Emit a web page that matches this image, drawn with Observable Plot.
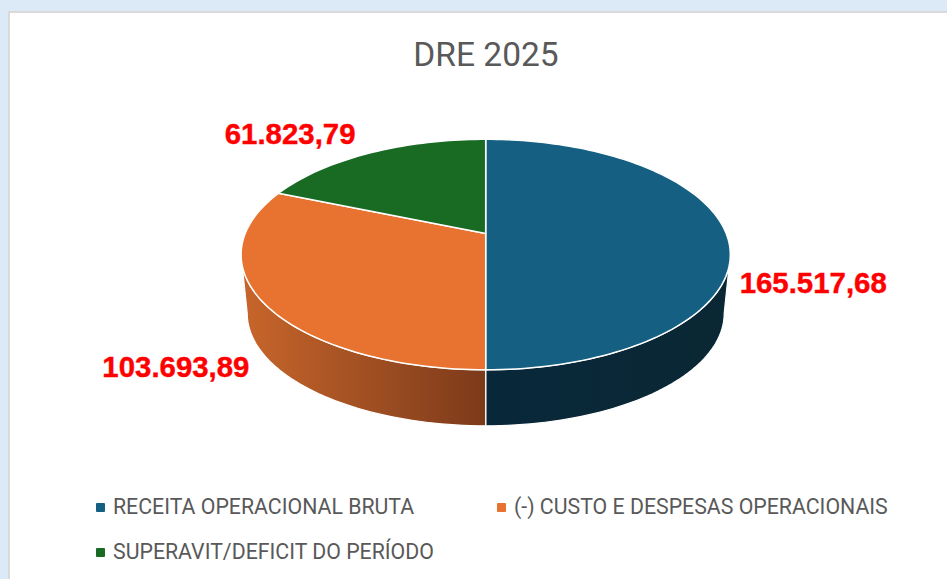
<!DOCTYPE html>
<html lang="pt-BR">
<head>
<meta charset="utf-8">
<title>DRE 2025</title>
<script src="https://cdn.jsdelivr.net/npm/d3@7"></script>
<script src="https://cdn.jsdelivr.net/npm/@observablehq/plot@0.6"></script>
<style>
  html, body { margin: 0; height: 100%; overflow: hidden; background: #dce9f6; }
  #card { position: absolute; left: 8px; top: 11px; width: 960px; height: 600px; background: #fff; border: 2px solid #d9d9d9; box-sizing: border-box; }
  #title { position: absolute; left: 0; top: 35px; width: 972px; text-align: center; font: 33.5px Roboto, sans-serif; color: #595959; }
  #chart { position: absolute; left: 0; top: 100px; }
  #chart svg { background: transparent; display: block; }
  .item { position: absolute; font: 21.3px Roboto, sans-serif; color: #595959; white-space: nowrap; line-height: 24px; }
  .sw { position: absolute; width: 9px; height: 9px; border-radius: 1px; }
</style>
</head>
<body>
<div id="card"></div>
<div id="title">DRE 2025</div>
<div id="chart"></div>
<div id="legend"></div>
<script>
const categories = ["RECEITA OPERACIONAL BRUTA", "(-) CUSTO E DESPESAS OPERACIONAIS", "SUPERAVIT/DEFICIT DO PERÍODO"];
const values = [165517.68, 103693.89, 61823.79];
const valueLabels = ["165.517,68", "103.693,89", "61.823,79"];
const colors = ["#156082", "#E8722F", "#196B24"];

// perspective disc: unit circle viewed from above
const W = 947, H = 340, cx = 485.2, cyTop = 133, R = 240.5;
const k = 0.1826, tilt = 0.4633;
const bottomScale = 0.975, bottomShift = 59.4 / R;

const project = (deg, s = 1, shift = 0) => {
  const t = deg * Math.PI / 180, X = Math.sin(t), Y = Math.cos(t), d = 1 + k * Y;
  return {x: s * X / d, y: s * tilt * Y / d - shift};
};

const total = d3.sum(values);
let acc = 0;
const slices = categories.map((name, i) => {
  const a0 = acc / total * 360;
  acc += values[i];
  return {name, value: values[i], label: valueLabels[i], a0, a1: acc / total * 360};
});

const arc = (a0, a1, s, shift) => {
  const n = Math.max(2, Math.ceil((a1 - a0) / 1.5));
  return d3.range(n + 1).map(j => project(a0 + (a1 - a0) * j / n, s, shift));
};

const tops = slices.flatMap(s => {
  const ring = [{x: 0, y: 0}, ...arc(s.a0, s.a1), {x: 0, y: 0}];
  return ring.map(p => ({...p, name: s.name}));
});

// the visible side of the disc runs between the two silhouette angles
const silhouette = Math.acos(-k) * 180 / Math.PI;
const wall = s => {
  const a0 = Math.max(s.a0, silhouette), a1 = Math.min(s.a1, 360 - silhouette);
  if (a1 <= a0) return [];
  const ring = [...arc(a0, a1), ...arc(a0, a1, bottomScale, bottomShift).reverse()];
  return [...ring, ring[0]];
};

const mid = s => project((s.a0 + s.a1) / 2);
const label = (i, dx, dy) => Plot.text([slices[i]], {
  x: d => mid(d).x, y: d => mid(d).y, text: "label", dx, dy,
  fill: "#ff0000", stroke: "#ff0000", strokeWidth: 0.4,
  fontSize: 29.4, fontWeight: 700, fontFamily: "'Liberation Sans', sans-serif", textAnchor: "middle"
});

const plot = Plot.plot({
  width: W, height: H, margin: 0,
  style: {background: "transparent", overflow: "visible"},
  x: {domain: [-cx / R, (W - cx) / R], range: [0, W], axis: null},
  y: {domain: [-(H - cyTop) / R, cyTop / R], range: [H, 0], axis: null},
  color: {domain: categories, range: colors},
  marks: [
    Plot.line(wall(slices[0]), {x: "x", y: "y", fill: "url(#wall-blue)", stroke: "#fff", strokeWidth: 1.2}),
    Plot.line(wall(slices[1]), {x: "x", y: "y", fill: "url(#wall-orange)", stroke: "#fff", strokeWidth: 1.2}),
    Plot.line(tops, {x: "x", y: "y", z: "name", fill: "name", stroke: "#fff", strokeWidth: 1.5, strokeLinejoin: "round"}),
    label(0, 87, 50),
    label(1, -87, 65),
    label(2, -80, -18)
  ]
});

const defs = d3.select(plot).insert("svg:defs", ":first-child");
const gradient = (id, stops) => {
  const g = defs.append("svg:linearGradient").attr("id", id);
  stops.forEach(([o, c]) => g.append("svg:stop").attr("offset", o).attr("stop-color", c));
};
gradient("wall-blue", [[0, "#08283a"], [1, "#0b2734"]]);
gradient("wall-orange", [[0, "#c8662b"], [1, "#7c3a1a"]]);
document.getElementById("chart").append(plot);

// legend below the chart
const legendPos = [[113, 495], [514, 495], [113, 540]];
const legend = document.getElementById("legend");
categories.forEach((name, i) => {
  const [x, y] = legendPos[i];
  const sw = document.createElement("div");
  sw.className = "sw";
  sw.style.cssText = `left:${x - 17}px;top:${y + 8}px;background:${colors[i]}`;
  const t = document.createElement("div");
  t.className = "item";
  t.style.cssText = `left:${x}px;top:${y}px`;
  t.textContent = name;
  legend.append(sw, t);
});
</script>
</body>
</html>
